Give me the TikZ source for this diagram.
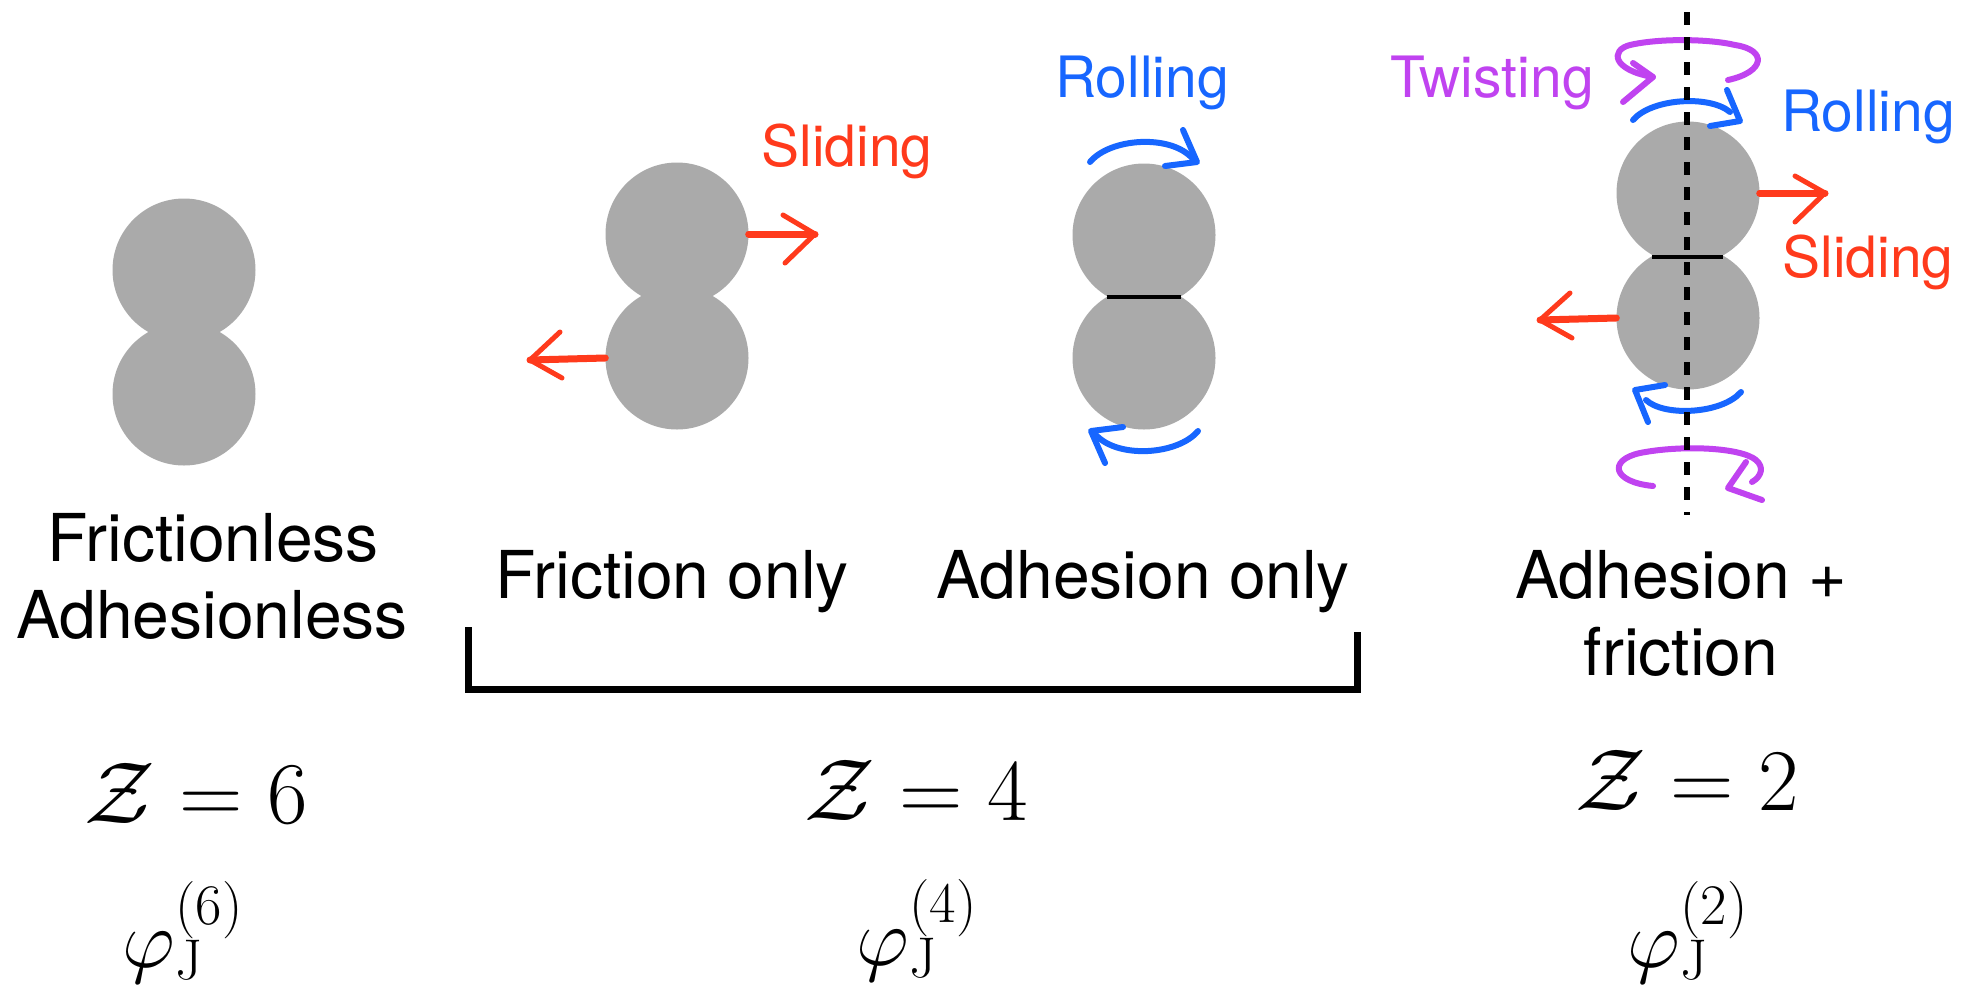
\RequirePackage{fix-cm}
\documentclass[tikz,border=0pt]{standalone}
\usepackage{fontspec}
\newfontfamily\hel{TeX Gyre Heros}
\usetikzlibrary{shapes.geometric}
\definecolor{grain}{RGB}{170,170,170}
\definecolor{slidered}{RGB}{255,58,28}
\definecolor{rollblue}{RGB}{23,102,255}
\definecolor{twistpurple}{RGB}{192,67,240}
\tikzset{
  graincirc/.style={circle, fill=grain, inner sep=0pt, minimum size=143pt},
  biglabel/.style={font=\hel\fontsize{66}{77}\selectfont, inner sep=0pt, anchor=base},
  motionlabel/.style={font=\hel\fontsize{57}{68}\selectfont, inner sep=0pt, anchor=base},
  zlabel/.style={font=\fontsize{88}{100}\selectfont, inner sep=0pt, anchor=base},
  philabel/.style={font=\fontsize{82}{96}\selectfont, inner sep=0pt, anchor=base},
  slide/.style={draw=slidered, line width=5pt, line cap=round, line join=round},
  slideshaft/.style={draw=slidered, line width=7pt, line cap=round},
  roll/.style={draw=rollblue, line width=6pt, line cap=round, line join=round},
  twist/.style={draw=twistpurple, line width=6pt, line cap=round, line join=round},
  contact/.style={draw=black, line width=4pt},
  axisline/.style={draw=black, line width=6pt, dash pattern=on 13pt off 12pt},
  bracket/.style={draw=black, line width=7pt}
}
\begin{document}
\begin{tikzpicture}[x=1pt,y=-1pt]
\useasboundingbox (0,0) rectangle (1973,989);
\fill[white] (0,0) rectangle (1973,989);

% grains
\node[graincirc] (fl1) at (184,270) {};
\node[graincirc] (fl2) at (184,394) {};
\node[graincirc] (fr1) at (677,234) {};
\node[graincirc] (fr2) at (677,358) {};
\node[graincirc] (ad1) at (1144,235) {};
\node[graincirc] (ad2) at (1144,358) {};
\node[graincirc] (af1) at (1688,193) {};
\node[graincirc] (af2) at (1688,318) {};

% contact lines
\draw[contact] (1107,297) -- (1181,297);
\draw[contact] (1652,257) -- (1723,257);

% sliding arrows, friction only
\coordinate (frtipR) at (815,234);
\coordinate (frtipL) at (530,360);
\draw[slideshaft] (fr1.east) -- (frtipR);
\draw[slide] (783,215) -- (frtipR) -- (785,263);
\draw[slideshaft] (fr2.west) -- (frtipL);
\draw[slide] (560,332) -- (frtipL) -- (562,378);

% sliding arrows, adhesion + friction
\coordinate (aftipR) at (1825,193);
\coordinate (aftipL) at (1540,320);
\draw[slideshaft] (af1.east) -- (aftipR);
\draw[slide] (1795,176) -- (aftipR) -- (1795,222);
\draw[slideshaft] (af2.west) -- (aftipL);
\draw[slide] (1570,293) -- (aftipL) -- (1572,338);

% rolling arrows, adhesion only
\draw[roll] (1090,162) .. controls (1110,138) and (1170,134) .. (1192,158);
\draw[roll] (1183,130) -- (1197,162) -- (1165,166);
\draw[roll] (1198,431) .. controls (1178,455) and (1118,459) .. (1096,435);
\draw[roll] (1105,463) -- (1091,431) -- (1123,427);

% rolling arrows, adhesion + friction
\draw[roll] (1633,120) .. controls (1652,98) and (1710,95) .. (1730,112);
\draw[roll] (1727,90) -- (1740,121) -- (1710,126);
\draw[roll] (1741,392) .. controls (1722,414) and (1664,417) .. (1646,400);
\draw[roll] (1648,422) -- (1635,390) -- (1665,385);

% twisting arrows
\draw[twist] (1728,80) .. controls (1765,72) and (1768,50) .. (1735,45)
  .. controls (1710,39) and (1660,38) .. (1630,45)
  .. controls (1610,50) and (1612,70) .. (1653,77) -- (1623,102);
\draw[twist] (1633,63) -- (1653,77);
\draw[twist] (1653,486) .. controls (1612,482) and (1608,460) .. (1640,453)
  .. controls (1680,445) and (1740,447) .. (1756,460)
  .. controls (1764,467) and (1762,476) .. (1752,482);
\draw[twist] (1746,462) -- (1728,488) -- (1762,500);

% axis
\draw[axisline] (1687,12) -- (1687,515);

% motion labels
\node[motionlabel, text=slidered] (slideA) at (847,166) {Sliding};
\node[motionlabel, text=rollblue] (rollA) at (1142,97) {Rolling};
\node[motionlabel, text=twistpurple] (twistB) at (1492,97) {Twisting};
\node[motionlabel, text=rollblue] (rollB) at (1868,131) {Rolling};
\node[motionlabel, text=slidered] (slideB) at (1868,277) {Sliding};

% case labels
\node[biglabel] (t1a) at (213,561) {Frictionless};
\node[biglabel] (t1b) at (212,638) {Adhesionless};
\node[biglabel] (t2) at (672,598) {Friction only};
\node[biglabel] (t3) at (1143,598) {Adhesion only};
\node[biglabel] (t4a) at (1681,598) {Adhesion +};
\node[biglabel] (t4b) at (1681,675) {friction};

% bracket
\draw[bracket] (468,627) -- (468,689) -- (1357,689) -- (1357,632);

% coordination numbers
\node[zlabel] (z6) at (196,823) {$\mathcal{Z}=6$};
\node[zlabel] (z4) at (916,820) {$\mathcal{Z}=4$};
\node[zlabel] (z2) at (1687,810) {$\mathcal{Z}=2$};

% jamming fractions
\node[philabel] (p6) at (183,967) {$\varphi_{\mathrm{J}}^{(6)}$};
\node[philabel] (p4) at (917,965) {$\varphi_{\mathrm{J}}^{(4)}$};
\node[philabel] (p2) at (1688,967) {$\varphi_{\mathrm{J}}^{(2)}$};
\end{tikzpicture}
\end{document}
